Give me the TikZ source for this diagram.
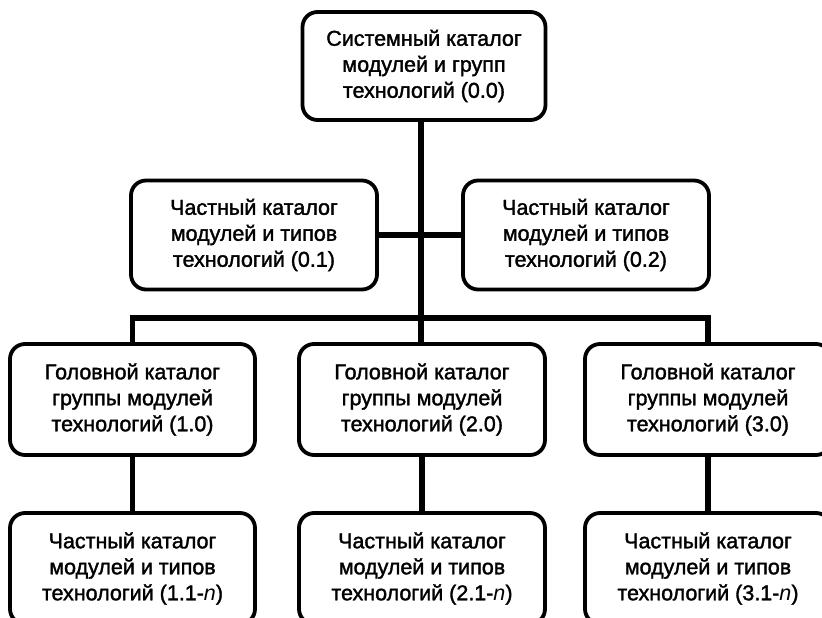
\documentclass[tikz,border=0pt]{standalone}
\usepackage{fontspec}
\setmainfont{Liberation Sans}
\newfontfamily\boxfont{Liberation Sans}[AutoFakeBold=1.6]
\begin{document}
\begin{tikzpicture}[x=1pt,y=-1pt,
  catbox/.style={draw, line width=3.8pt, rounded corners=15pt, fill=white,
    align=center, inner sep=0pt, minimum width=246pt, minimum height=109pt,
    font=\boxfont\bfseries\fontsize{21.5}{26}\selectfont},
  link/.style={line width=5.5pt, line join=miter, line cap=butt}]
\clip (0,0) rectangle (822,618);
\fill[white] (0,0) rectangle (822,618);
\coordinate (barc) at (421,318);
% boxes
\node[catbox, minimum width=243pt, minimum height=108pt] (top) at (424,66)
  {Системный каталог\\модулей и групп\\технологий (0.0)};
\node[catbox] (n01) at (254,235) {Частный каталог\\модулей и типов\\технологий (0.1)};
\node[catbox] (n02) at (586,235) {Частный каталог\\модулей и типов\\технологий (0.2)};
\node[catbox, minimum width=245pt, minimum height=111pt] (n10) at (132.5,399.5)
  {Головной каталог\\группы модулей\\технологий (1.0)};
\node[catbox, minimum height=111pt] (n20) at (422,399.5)
  {Головной каталог\\группы модулей\\технологий (2.0)};
\node[catbox, minimum height=111pt] (n30) at (708,399.5)
  {Головной каталог\\группы модулей\\технологий (3.0)};
\node[catbox, minimum width=245pt, minimum height=111pt] (n11) at (132.5,568.5)
  {Частный каталог\\модулей и типов\\технологий (1.1-\textit{n})};
\node[catbox, minimum height=111pt] (n21) at (422,568.5)
  {Частный каталог\\модулей и типов\\технологий (2.1-\textit{n})};
\node[catbox, minimum height=111pt] (n31) at (708,568.5)
  {Частный каталог\\модулей и типов\\технологий (3.1-\textit{n})};
% connectors
\draw[link] (top.south -| barc) -- (n20.north -| barc);
\draw[link] (n01.east) -- (n02.west);
\draw[link] (n10.north) -- (n10.north |- barc) -- (n30.north |- barc) -- (n30.north);
\draw[link] (n10.south) -- (n11.north);
\draw[link] (n20.south) -- (n21.north);
\draw[link] (n30.south) -- (n31.north);
\end{tikzpicture}
\end{document}
